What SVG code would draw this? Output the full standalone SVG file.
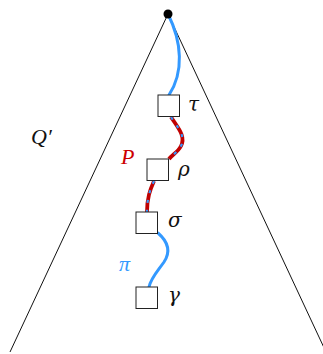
<svg xmlns="http://www.w3.org/2000/svg" width="323" height="354" viewBox="0 0 323 354">
<style>
.box{fill:#fff;stroke:#222;stroke-width:1}
.lbl{font-family:"Liberation Serif","DejaVu Serif",serif;font-style:italic;font-size:20px;fill:#111}
.gr{font-family:"DejaVu Serif",serif;font-style:italic;font-size:20px;fill:#111}
.tri{fill:none;stroke:#111;stroke-width:1}
.blue{fill:none;stroke:#3399ff;stroke-width:3;stroke-linecap:round}
.red{fill:none;stroke:#c00000;stroke-width:3.8}
.dash{fill:none;stroke:#3399ff;stroke-width:2.2;stroke-dasharray:3 7}
</style>
<rect width="323" height="354" fill="#fff"/>
<g id="triangle">
<path class="tri" d="M10,352 L168,14 L326,352"/>
</g>
<g id="connectors">
<path class="blue" d="M168,14 C182,42 184,72 169,95"/>
<path class="red" d="M171,117 C178,128 186,136 181,146 C178,152 172,155 169,159"/>
<path class="dash" d="M171,117 C178,128 186,136 181,146 C178,152 172,155 169,159"/>
<path class="red" d="M154,181 C150,190 147,198 147,212"/>
<path class="dash" d="M154,181 C150,190 147,198 147,212"/>
<path class="blue" d="M158,233 C166,240 172,250 164,262 C157,272 151,278 149,287"/>
</g>
<g id="apex"><circle cx="168" cy="14" r="4.5" fill="#000"/></g>
<g id="tau"><rect class="box" x="158" y="95" width="21.5" height="21.5"/><text class="gr" x="188" y="111">τ</text></g>
<g id="rho"><rect class="box" x="147" y="159" width="21.5" height="21.5"/><text class="gr" x="178" y="176">ρ</text></g>
<g id="sigma"><rect class="box" x="136" y="212" width="21.5" height="21.5"/><text class="gr" x="168" y="227">σ</text></g>
<g id="gamma"><rect class="box" x="136" y="287" width="21.5" height="21.5"/><text class="gr" x="168" y="302">γ</text></g>
<text class="lbl" x="121" y="164" style="fill:#cc0000;font-size:22px">P</text>
<text class="lbl" x="119" y="271" style="fill:#3399ff;font-size:22px">π</text>
<text class="lbl" x="31" y="144" style="font-size:22px">Q′</text>
</svg>
